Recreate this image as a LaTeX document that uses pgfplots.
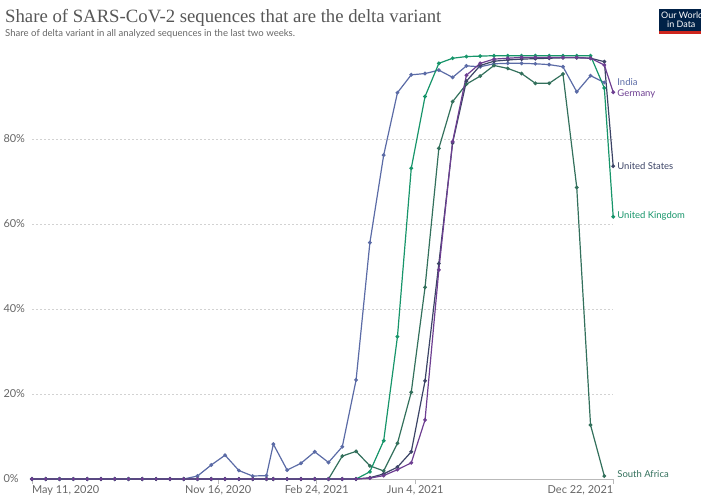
\documentclass[border=0pt]{standalone}
\usepackage{fontspec}
\setmainfont{Lato}
\newfontfamily\titlefont{Liberation Serif}
\usepackage{pgfplots}
\usepackage{pgfplotstable}
\pgfplotsset{compat=1.18}

\definecolor{india}{HTML}{5B6BA6}
\definecolor{germany}{HTML}{6D3E91}
\definecolor{usa}{HTML}{3C4466}
\definecolor{uk}{HTML}{17956A}
\definecolor{safrica}{HTML}{33705C}
\definecolor{txtgray}{HTML}{666666}
\definecolor{owidnavy}{HTML}{002147}
\definecolor{owidred}{HTML}{CE261E}

% x = days since May 11, 2020; y = share in percent
\pgfplotstableread{
x y
0 0
14 0
28 0
42 0
56 0
70 0
84 0
98 0
112 0
126 0
140 0
154 0
168 0.7
182 3.3
196 5.6
210 2.0
224 0.7
238 0.8
245 8.2
259 2.1
273 3.7
287 6.4
301 3.9
315 7.6
329 23.3
343 55.6
357 76.2
371 90.9
385 95.1
399 95.4
413 96.2
427 94.5
441 97.2
455 97.0
469 97.7
483 97.8
497 97.8
511 97.7
525 97.5
539 97.0
553 91.1
567 94.9
581 93.3
}\india

\pgfplotstableread{
x y
0 0
14 0
28 0
42 0
56 0
70 0
84 0
98 0
112 0
126 0
140 0
154 0
168 0
182 0
196 0
210 0
224 0
238 0
245 0
259 0
273 0
287 0
301 0
315 5.4
329 6.5
343 3.1
357 1.9
371 8.4
385 20.4
399 45.1
413 77.8
427 88.8
441 92.9
455 94.8
469 97.3
483 96.6
497 95.4
511 93.1
525 93.1
539 95.3
553 68.6
567 12.7
581 0.7
}\safrica

\pgfplotstableread{
x y
0 0
14 0
28 0
42 0
56 0
70 0
84 0
98 0
112 0
126 0
140 0
154 0
168 0
182 0
196 0
210 0
224 0
238 0
245 0
259 0
273 0
287 0
301 0
315 0
329 0
343 1.7
357 9.0
371 33.5
385 73.1
399 90.0
413 97.8
427 99.0
441 99.4
455 99.5
469 99.6
483 99.6
497 99.6
511 99.6
525 99.6
539 99.6
553 99.6
567 99.6
581 92.0
590 61.7
}\uk

\pgfplotstableread{
x y
0 0
14 0
28 0
42 0
56 0
70 0
84 0
98 0
112 0
126 0
140 0
154 0
168 0
182 0
196 0
210 0
224 0
238 0
245 0
259 0
273 0
287 0
301 0
315 0
329 0
343 0.3
357 1.2
371 2.8
385 6.4
399 23.1
413 50.7
427 79.1
441 93.6
455 97.3
469 98.3
483 98.6
497 98.8
511 98.9
525 99.0
539 99.1
553 99.1
567 99.0
581 98.2
590 73.6
}\usa

\pgfplotstableread{
x y
0 0
14 0
28 0
42 0
56 0
70 0
84 0
98 0
112 0
126 0
140 0
154 0
168 0
182 0
196 0
210 0
224 0
238 0
245 0
259 0
273 0
287 0
301 0
315 0
329 0
343 0.2
357 0.8
371 2.2
385 3.8
399 13.9
413 49.2
427 79.4
441 95.0
455 97.8
469 98.8
483 99.0
497 99.2
511 99.2
525 99.2
539 99.2
553 99.2
567 99.0
581 97.4
590 91.0
}\germany

\begin{document}
\begin{tikzpicture}
\path[use as bounding box] (0,0) rectangle (701bp,498bp);

% title and subtitle
\node[anchor=base west, inner sep=0, text=txtgray!85!black] at (5bp,475bp)
  {\titlefont\fontsize{18.8}{20}\selectfont Share of SARS-CoV-2 sequences that are the delta variant};
\node[anchor=base west, inner sep=0, text=txtgray] at (5bp,461bp)
  {\fontsize{9.6}{11}\selectfont Share of delta variant in all analyzed sequences in the last two weeks.};

% logo
\fill[owidnavy] (659bp,465bp) rectangle (705bp,489bp);
\fill[owidred] (659bp,464bp) rectangle (705bp,466.5bp);
\node[anchor=base west, inner sep=0, text=white] at (661bp,479bp)
  {\fontsize{9}{10}\selectfont Our World};
\node[anchor=base west, inner sep=0, text=white] at (667bp,470bp)
  {\fontsize{9}{10}\selectfont in Data};

\begin{axis}[
  at={(32bp,19bp)}, anchor=south west,
  scale only axis, width=581.2bp, height=425bp,
  xmin=0, xmax=590, ymin=0, ymax=100,
  clip=false,
  separate axis lines,
  axis x line*=bottom, axis y line*=left,
  y axis line style={draw=none},
  x axis line style={draw=gray!55, line width=0.8bp},
  tick align=outside, major tick length=5bp,
  xtick={0,189,289,389,590},
  xticklabels={{\makebox[0pt][l]{May 11, 2020}},{Nov 16, 2020},{Feb 24, 2021},{Jun 4, 2021},{\makebox[0pt][r]{Dec 22, 2021}}},
  xtick style={draw=gray!55, line width=0.8bp},
  x tick label style={font=\fontsize{11}{12}\selectfont, text=txtgray, inner sep=1bp},
  ytick={0,20,40,60,80},
  yticklabels={0\%,20\%,40\%,60\%,80\%},
  ytick style={draw=none},
  y tick label style={font=\fontsize{11}{12}\selectfont, text=txtgray, anchor=west, xshift=-27bp},
  ymajorgrids,
  grid style={draw=gray!35, dash pattern=on 2bp off 2bp, line width=0.6bp},
  every axis plot/.append style={line width=1.2bp, mark=*, mark size=1.25bp},
]
\addplot[india] table {\india};
\addplot[safrica] table {\safrica};
\addplot[uk] table {\uk};
\addplot[usa] table {\usa};
\addplot[germany] table {\germany};

\begin{scope}[every node/.style={anchor=west, inner sep=0, font=\fontsize{9.5}{10}\selectfont}]
\node[text=india] at (axis cs:590,93.4) [xshift=4bp] {India};
\node[text=germany] at (axis cs:590,90.5) [xshift=4bp] {Germany};
\node[text=usa] at (axis cs:590,73.6) [xshift=4bp] {United States};
\node[text=uk] at (axis cs:590,61.9) [xshift=4bp] {United Kingdom};
\node[text=safrica] at (axis cs:590,1.2) [xshift=4bp] {South Africa};
\end{scope}
\end{axis}
\end{tikzpicture}
\end{document}
